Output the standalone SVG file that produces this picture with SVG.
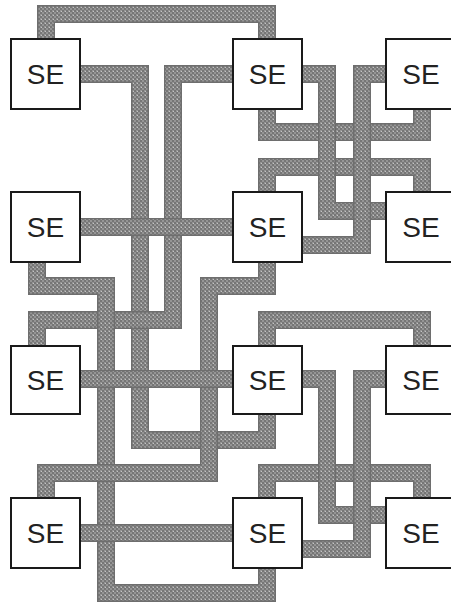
<svg xmlns="http://www.w3.org/2000/svg" width="451" height="603" viewBox="0 0 451 603">
<style>
.e{fill:none;stroke:#6e6e6e;stroke-width:18;stroke-linejoin:miter;stroke-linecap:butt}
.w{fill:none;stroke:url(#hatch);stroke-width:15;stroke-linejoin:miter;stroke-linecap:butt}
.box{fill:#fff;stroke:#1a1a1a;stroke-width:2}
.lbl{font-family:"Liberation Sans",Arial,sans-serif;font-size:28px;fill:#222;text-anchor:middle}
</style>
<defs>
<pattern id="hatch" width="4" height="4" patternUnits="userSpaceOnUse">
<rect width="4" height="4" fill="#959595"/>
<rect x="0" y="0" width="2" height="2" fill="#767676"/>
<rect x="2" y="2" width="2" height="2" fill="#767676"/>
<rect x="1" y="3" width="1" height="1" fill="#c4c4c4"/>
</pattern>
<path id="wA" d="M46,45 V14 H267 V45"/>
<path id="wC" d="M75,74 H140 V440 H267 V408"/>
<path id="wB" d="M238,74 H173 V320 H37 V351"/>
<path id="w2" d="M75,227 H238"/>
<path id="wD" d="M37,256 V286 H106 V593 H267 V562"/>
<path id="wE" d="M267,257 V286 H209 V473 H46 V503"/>
<path id="w3" d="M75,379 H238"/>
<path id="w4" d="M75,533 H238"/>
<path id="wR1" d="M267,104 V132 H422 V104"/>
<path id="wR2" d="M267,197 V167 H422 V197"/>
<path id="wF" d="M297,74 H327 V211 H391"/>
<path id="wG" d="M391,74 H362 V245 H297"/>
<path id="wR3" d="M267,351 V320 H422 V351"/>
<path id="wR4" d="M267,503 V473 H422 V503"/>
<path id="wH" d="M297,379 H327 V515 H391"/>
<path id="wI" d="M391,379 H362 V549 H297"/>
</defs>
<g id="connectors">
<use href="#wA" class="e"/><use href="#wA" class="w"/>
<use href="#wC" class="e"/><use href="#wC" class="w"/>
<use href="#wB" class="e"/><use href="#wB" class="w"/>
<use href="#w2" class="e"/><use href="#w2" class="w"/>
<use href="#wD" class="e"/><use href="#wD" class="w"/>
<use href="#wE" class="e"/><use href="#wE" class="w"/>
<use href="#w3" class="e"/><use href="#w3" class="w"/>
<use href="#w4" class="e"/><use href="#w4" class="w"/>
<use href="#wR1" class="e"/><use href="#wR1" class="w"/>
<use href="#wR2" class="e"/><use href="#wR2" class="w"/>
<use href="#wF" class="e"/><use href="#wF" class="w"/>
<use href="#wG" class="e"/><use href="#wG" class="w"/>
<use href="#wR3" class="e"/><use href="#wR3" class="w"/>
<use href="#wR4" class="e"/><use href="#wR4" class="w"/>
<use href="#wH" class="e"/><use href="#wH" class="w"/>
<use href="#wI" class="e"/><use href="#wI" class="w"/>
</g>
<g id="nodes">
<g id="se-1-1"><rect class="box" x="11" y="39" width="69" height="70"/><text class="lbl" x="45.5" y="84">SE</text></g>
<g id="se-1-2"><rect class="box" x="233" y="39" width="69" height="70"/><text class="lbl" x="267.5" y="84">SE</text></g>
<g id="se-1-3"><rect class="box" x="386" y="39" width="69" height="70"/><text class="lbl" x="421" y="84">SE</text></g>
<g id="se-2-1"><rect class="box" x="11" y="192" width="69" height="70"/><text class="lbl" x="45.5" y="237">SE</text></g>
<g id="se-2-2"><rect class="box" x="233" y="192" width="69" height="70"/><text class="lbl" x="267.5" y="237">SE</text></g>
<g id="se-2-3"><rect class="box" x="386" y="192" width="69" height="70"/><text class="lbl" x="421" y="237">SE</text></g>
<g id="se-3-1"><rect class="box" x="11" y="346" width="69" height="68"/><text class="lbl" x="45.5" y="390">SE</text></g>
<g id="se-3-2"><rect class="box" x="233" y="346" width="69" height="68"/><text class="lbl" x="267.5" y="390">SE</text></g>
<g id="se-3-3"><rect class="box" x="386" y="346" width="69" height="68"/><text class="lbl" x="421" y="390">SE</text></g>
<g id="se-4-1"><rect class="box" x="11" y="498" width="69" height="70"/><text class="lbl" x="45.5" y="543">SE</text></g>
<g id="se-4-2"><rect class="box" x="233" y="498" width="69" height="70"/><text class="lbl" x="267.5" y="543">SE</text></g>
<g id="se-4-3"><rect class="box" x="386" y="498" width="69" height="70"/><text class="lbl" x="421" y="543">SE</text></g>
</g>
</svg>
